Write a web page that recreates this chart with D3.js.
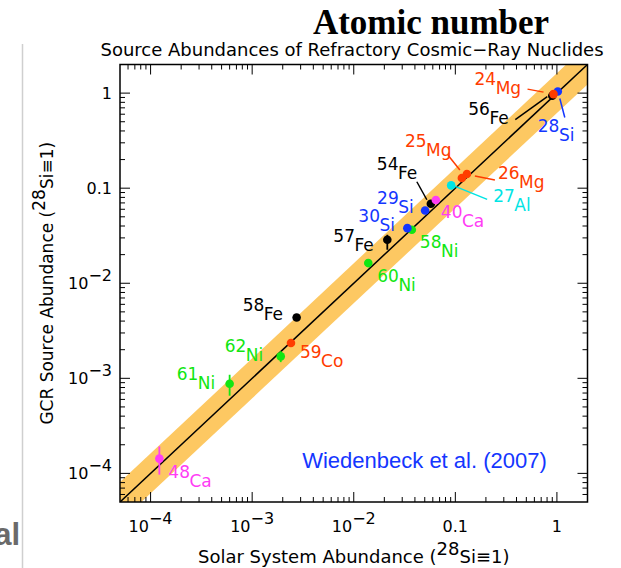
<!DOCTYPE html>
<html>
<head>
<meta charset="utf-8">
<script src="https://cdn.jsdelivr.net/npm/d3@7"></script>
<style>
  body { margin: 0; background: #fff; }
  text { font-family: "DejaVu Sans", sans-serif; }
</style>
</head>
<body>
<script>
var W = 621, H = 568;

// isotopes, abundances relative to 28Si (order = drawing order)
var massNumbers = ["28", "56", "24", "25", "26", "27", "54", "40", "29", "58", "30", "57", "60", "58", "59", "62", "61", "48"];
var elements    = ["Si", "Fe", "Mg", "Mg", "Mg", "Al", "Fe", "Ca", "Si", "Ni", "Si", "Fe", "Ni", "Fe", "Co", "Ni", "Ni", "Ca"];
var solarAbund  = [1.02, 0.90, 0.926, 0.116, 0.130, 0.091, 0.0574, 0.0643, 0.0504, 0.0373, 0.0337, 0.0214, 0.0139, 0.00274, 0.00241, 0.00191, 0.00060, 0.000122];
var gcrAbund    = [1.04, 0.94, 0.976, 0.128, 0.141, 0.107, 0.0686, 0.075, 0.0583, 0.0365, 0.038, 0.0287, 0.0163, 0.00437, 0.00235, 0.0017, 0.000877, 0.000143];
var gcrErrLo    = [null, null, null, null, null, 0.099, null, null, null, null, 0.0355, 0.0225, null, null, null, 0.00148, 0.000656, 0.000097];
var gcrErrHi    = [null, null, null, null, null, 0.116, null, null, null, null, 0.0415, 0.0323, null, null, null, 0.00193, 0.00109, 0.000192];

var majorTicks  = [1e-4, 1e-3, 1e-2, 0.1, 1];
var tickBase    = ["10", "10", "10", "0.1", "1"];
var tickExp     = ["−4", "−3", "−2", "", ""];

var bandDecades = 0.21;   // half width of the shaded band

var colorOf = {Mg: "#ff3c00", Co: "#ff3c00", Si: "#1436ff", Fe: "#000000",
               Al: "#00e4e4", Ca: "#ff3cf5", Ni: "#12e612"};

// label placement: offset of the mass number from the point, optional leader line
var labelLayout = {
  "24Mg": {dx: -79, dy: -9,  lead: [-26, -5, -10, -2]},
  "28Si": {dx: -20, dy: 41,  lead: [7, 26, 2, 7]},
  "56Fe": {dx: -84, dy: 19,  lead: [-37, 24, -5, 1]},
  "25Mg": {dx: -57, dy: -31, lead: [-14, -23, -2, -8]},
  "26Mg": {dx: 31,  dy: 5,   lead: [8, 2, 28, 6]},
  "27Al": {dx: 42,  dy: 17,  lead: [4, 1, 36, 14]},
  "54Fe": {dx: -54, dy: -34, lead: [-14, -22, -4, -4]},
  "40Ca": {dx: 5,   dy: 18},
  "29Si": {dx: -48, dy: -6},
  "30Si": {dx: -49, dy: -6},
  "58Ni": {dx: 8,   dy: 18},
  "57Fe": {dx: -54, dy: 2},
  "60Ni": {dx: 9,   dy: 19},
  "58Fe": {dx: -54, dy: -6},
  "59Co": {dx: 9,   dy: 15},
  "62Ni": {dx: -56, dy: -4},
  "61Ni": {dx: -53, dy: -4},
  "48Ca": {dx: 9,   dy: 19}
};

var svg = d3.select("body").append("svg")
    .attr("width", W).attr("height", H);

// slide fragments on the left
svg.append("line").attr("x1", 22.5).attr("x2", 22.5).attr("y1", 44).attr("y2", H)
    .attr("stroke", "#cfcfcf").attr("stroke-width", 1.5);
svg.append("text").attr("x", 20).attr("y", 545).attr("text-anchor", "end")
    .style("font-family", "'Liberation Sans', Arial, sans-serif")
    .style("font-weight", "bold").style("font-size", "31px")
    .attr("fill", "#6a6a6a").text("al");

var frameL = 120, frameR = 587.5, frameT = 64.5, frameB = 502;

var x = d3.scaleLog().domain([5e-5, 2]).range([frameL, frameR]);
var y = d3.scaleLog().domain([5e-5, 2]).range([frameB, frameT]);

svg.append("clipPath").attr("id", "frame")
  .append("rect").attr("x", frameL).attr("y", frameT)
  .attr("width", frameR - frameL).attr("height", frameB - frameT);

var plot = svg.append("g").attr("clip-path", "url(#frame)");

// shaded band around y = x
var lo = 1e-6, hi = 10, f = Math.pow(10, bandDecades);
var band = [[lo, lo * f], [hi, hi * f], [hi, hi / f], [lo, lo / f]];
plot.append("path")
    .attr("d", d3.line().x(function(d) { return x(d[0]); }).y(function(d) { return y(d[1]); })(band) + "Z")
    .attr("fill", "#fdc862");

plot.append("line")
    .attr("x1", x(lo)).attr("y1", y(lo)).attr("x2", x(hi)).attr("y2", y(hi))
    .attr("stroke", "#000").attr("stroke-width", 1.5);

// data
var data = massNumbers.map(function(m, i) {
  return {mass: m, el: elements[i], sx: solarAbund[i], gy: gcrAbund[i],
          lo: gcrErrLo[i], hi: gcrErrHi[i], key: m + elements[i]};
});

plot.selectAll(".err").data(data.filter(function(d) { return d.lo != null; }))
  .enter().append("line")
    .attr("x1", function(d) { return x(d.sx); }).attr("x2", function(d) { return x(d.sx); })
    .attr("y1", function(d) { return y(d.lo); }).attr("y2", function(d) { return y(d.hi); })
    .attr("stroke", function(d) { return colorOf[d.el]; })
    .attr("stroke-width", 1.8);

plot.selectAll(".pt").data(data).enter().append("circle")
    .attr("cx", function(d) { return x(d.sx); })
    .attr("cy", function(d) { return y(d.gy); })
    .attr("r", 4.3)
    .attr("fill", function(d) { return colorOf[d.el]; });

// isotope labels
data.forEach(function(d) {
  var L = labelLayout[d.key], px = x(d.sx), py = y(d.gy), c = colorOf[d.el];
  if (L.lead) {
    svg.append("line")
      .attr("x1", px + L.lead[0]).attr("y1", py + L.lead[1])
      .attr("x2", px + L.lead[2]).attr("y2", py + L.lead[3])
      .attr("stroke", c).attr("stroke-width", 1.5);
  }
  var t = svg.append("text").attr("x", px + L.dx).attr("y", py + L.dy)
      .attr("fill", c).style("font-size", "17px");
  t.append("tspan").text(d.mass);
  t.append("tspan").attr("dx", -0.5).attr("dy", 9).text(d.el);
});

// frame and ticks on all four sides
svg.append("rect").attr("x", frameL).attr("y", frameT)
    .attr("width", frameR - frameL).attr("height", frameB - frameT)
    .attr("fill", "none").attr("stroke", "#000").attr("stroke-width", 1.5);

var minorTicks = [];
for (var e = -5; e <= 0; e++) {
  for (var m = 2; m <= 9; m++) {
    var v = m * Math.pow(10, e);
    if (v > 5.0001e-5 && v < 1.999) minorTicks.push(v);
  }
}

var ticks = svg.append("g").attr("stroke", "#000").attr("stroke-width", 1);
[[majorTicks, 10], [minorTicks, 5]].forEach(function(set) {
  var vals = set[0], len = set[1];
  vals.forEach(function(v) {
    ticks.append("line").attr("x1", x(v)).attr("x2", x(v)).attr("y1", frameB).attr("y2", frameB - len);
    ticks.append("line").attr("x1", x(v)).attr("x2", x(v)).attr("y1", frameT).attr("y2", frameT + len);
    ticks.append("line").attr("y1", y(v)).attr("y2", y(v)).attr("x1", frameL).attr("x2", frameL + len);
    ticks.append("line").attr("y1", y(v)).attr("y2", y(v)).attr("x1", frameR).attr("x2", frameR - len);
  });
});

// tick labels
majorTicks.forEach(function(v, i) {
  var tx = svg.append("text").attr("x", x(v)).attr("y", 532)
      .attr("text-anchor", "middle").style("font-size", "16px");
  tx.append("tspan").text(tickBase[i]);
  if (tickExp[i]) tx.append("tspan").attr("dy", -8).text(tickExp[i]);

  var ty = svg.append("text").attr("x", 112).attr("y", y(v) + 6)
      .attr("text-anchor", "end").style("font-size", "16px");
  ty.append("tspan").text(tickBase[i]);
  if (tickExp[i]) ty.append("tspan").attr("dy", -8).text(tickExp[i]);
});

// axis titles
var xt = svg.append("text").attr("x", (frameL + frameR) / 2).attr("y", 563)
    .attr("text-anchor", "middle").style("font-size", "18px");
xt.append("tspan").text("Solar System Abundance (");
xt.append("tspan").attr("dy", -8).text("28");
xt.append("tspan").attr("dy", 8).text("Si≡1)");

var yt = svg.append("text")
    .attr("transform", "translate(53," + ((frameT + frameB) / 2) + ") rotate(-90)")
    .attr("text-anchor", "middle").style("font-size", "17px");
yt.append("tspan").text("GCR Source Abundance (");
yt.append("tspan").attr("dy", -8).text("28");
yt.append("tspan").attr("dy", 8).text("Si≡1)");

svg.append("text").attr("x", 352).attr("y", 56).attr("text-anchor", "middle")
    .style("font-size", "18px")
    .text("Source Abundances of Refractory Cosmic−Ray Nuclides");

svg.append("text").attr("x", 431).attr("y", 34).attr("text-anchor", "middle")
    .style("font-family", "'Liberation Serif', 'Times New Roman', serif")
    .style("font-weight", "bold").style("font-size", "35px")
    .text("Atomic number");

svg.append("text").attr("x", 424.5).attr("y", 468).attr("text-anchor", "middle")
    .style("font-family", "'Liberation Sans', Arial, sans-serif")
    .style("font-size", "22px").attr("fill", "#1436ff")
    .text("Wiedenbeck et al. (2007)");
</script>
</body>
</html>
